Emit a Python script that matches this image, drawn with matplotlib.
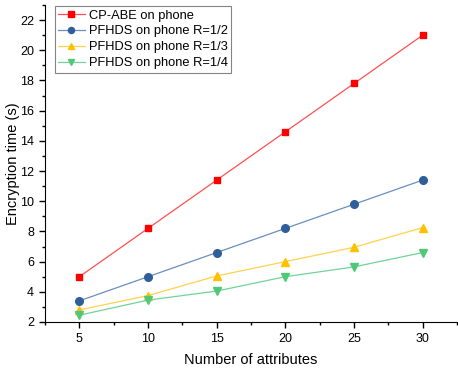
import matplotlib
matplotlib.use("Agg")
import matplotlib.pyplot as plt
from matplotlib.ticker import MultipleLocator

plt.rcParams['font.family'] = ['Liberation Sans', 'DejaVu Sans']

attributes = [5, 10, 15, 20, 25, 30]
cpabe = [5.0, 8.2, 11.4, 14.6, 17.8, 21.0]
pfhds_half = [3.4, 5.0, 6.6, 8.2, 9.8, 11.4]
pfhds_third = [2.8, 3.75, 5.05, 6.0, 6.95, 8.25]
pfhds_quarter = [2.45, 3.45, 4.05, 5.0, 5.65, 6.6]

fig = plt.figure(figsize=(4.58, 3.72), dpi=100)
ax = fig.add_axes([45/458, 50/372, 412/458, 317/372])

ax.plot(attributes, cpabe, color='#FF5050', lw=0.9, marker='s', ms=5, mfc='#FF0000', mec='#FF0000', label='CP-ABE on phone')
ax.plot(attributes, pfhds_half, color='#6A8EC0', lw=0.9, marker='o', ms=5.5, mfc='#2F5F9A', mec='#2F5F9A', label='PFHDS on phone R=1/2')
ax.plot(attributes, pfhds_third, color='#FFD24D', lw=0.9, marker='^', ms=6, mfc='#FFC000', mec='#FFC000', label='PFHDS on phone R=1/3')
ax.plot(attributes, pfhds_quarter, color='#70D49A', lw=0.9, marker='v', ms=6, mfc='#50C878', mec='#50C878', label='PFHDS on phone R=1/4')

ax.set_xlim(2.5, 32.5)
ax.set_ylim(2, 23)
ax.xaxis.set_major_locator(MultipleLocator(5))
ax.xaxis.set_minor_locator(MultipleLocator(2.5))
ax.yaxis.set_major_locator(MultipleLocator(2))
ax.yaxis.set_minor_locator(MultipleLocator(1))
ax.spines['top'].set_visible(False)
ax.spines['right'].set_visible(False)
ax.tick_params(which='major', direction='out', length=4, width=1, labelsize=9, pad=4)
ax.tick_params(which='minor', direction='out', length=2.5, width=1)
ax.set_xlabel('Number of attributes', fontsize=10.5, labelpad=6)
ax.set_ylabel('Encryption time (s)', fontsize=10.5)
ax.yaxis.set_label_coords(-0.078, 0.5)
ax.yaxis.label.set_verticalalignment('center')

leg = ax.legend(loc='upper left', bbox_to_anchor=(0.02, 1.0), fontsize=9.3, frameon=True, fancybox=False,
                edgecolor='#666666', handlelength=2.1, borderpad=0.25, labelspacing=0.3, handletextpad=0.3,
                borderaxespad=0.1, markerscale=0.8)
leg.get_frame().set_linewidth(0.8)

fig.savefig('out.png', dpi=100)
